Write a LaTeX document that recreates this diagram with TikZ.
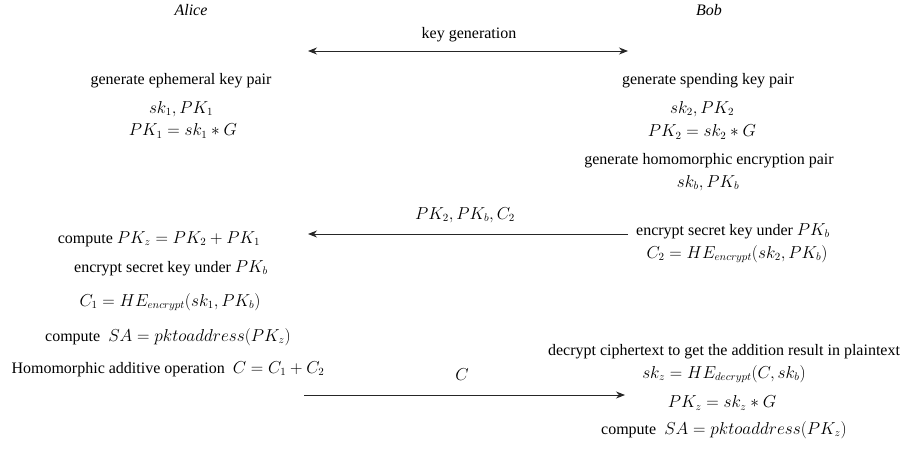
\documentclass[tikz,border=0pt]{standalone}
\usepackage{fontspec}
\setmainfont{Liberation Serif}
\usetikzlibrary{arrows.meta}
\tikzset{>={Stealth[length=9pt,width=7pt]}}
\tikzset{
  lbl/.style={inner sep=1pt,font=\fontsize{16}{19}\selectfont},
  msg/.style={->,line width=0.9pt,draw=black!85},
}

\begin{document}
\begin{tikzpicture}[x=1pt,y=-1pt]
\useasboundingbox (0,0) rectangle (904,455);
% parties
\node[lbl] (alice) at (191,10) {\itshape Alice};
\node[lbl] (bob) at (709,10) {\itshape Bob};
% key generation
\coordinate (kgL) at (308,51);
\coordinate (kgR) at (628,51);
\draw[msg,<->] (kgL) -- (kgR);
\node[lbl] (kg) at (469,35) {key generation};
\node[lbl] (a1) at (181,81) {generate ephemeral key pair};
\node[lbl] (a2) at (181,109) {$sk_1, PK_1$};
\node[lbl] (a3) at (183,131) {$PK_1 = sk_1 * G$};
\node[lbl] (b1) at (708,81) {generate spending key pair};
\node[lbl] (b2) at (702,109) {$sk_2, PK_2$};
\node[lbl] (b3) at (702,132) {$PK_2 = sk_2 * G$};
\node[lbl] (b4) at (709,161) {generate homomorphic encryption pair};
\node[lbl] (b5) at (708,183) {$sk_b, PK_b$};
% Bob -> Alice
\coordinate (m1R) at (628,234);
\coordinate (m1L) at (308,234);
\draw[msg] (m1R) -- (m1L);
\node[lbl] (m1) at (465,215) {$PK_2, PK_b, C_2$};
\node[lbl] (b6) at (733,231) {encrypt secret key under $PK_b$};
\node[lbl] (b7) at (737,254) {$C_2 = HE_{encrypt}(sk_2, PK_b)$};
\node[lbl] (a4) at (159,239) {compute $PK_z = PK_2 + PK_1$};
\node[lbl] (a5) at (171,268) {encrypt secret key under $PK_b$};
\node[lbl] (a6) at (170,302) {$C_1 = HE_{encrypt}(sk_1, PK_b)$};
\node[lbl] (a7) at (168,337) {compute \ $SA = pktoaddress(PK_z)$};
\node[lbl] (a8) at (168,369) {Homomorphic additive operation \ $C = C_1 + C_2$};
% Alice -> Bob
\coordinate (m2L) at (304,395);
\coordinate (m2R) at (625,395);
\draw[msg] (m2L) -- (m2R);
\node[lbl] (m2) at (462,375) {$C$};
\node[lbl] (b8) at (724,352) {decrypt ciphertext to get the addition result in plaintext};
\node[lbl] (b9) at (724,374) {$sk_z = HE_{decrypt}(C, sk_b)$};
\node[lbl] (b10) at (722,403) {$PK_z = sk_z * G$};
\node[lbl] (b11) at (724,430) {compute \ $SA = pktoaddress(PK_z)$};
\end{tikzpicture}
\end{document}
